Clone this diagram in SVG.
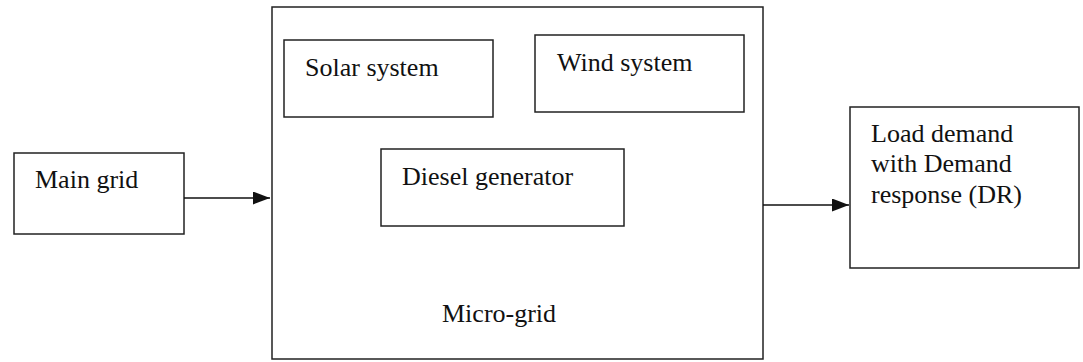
<svg xmlns="http://www.w3.org/2000/svg" width="1083" height="362" viewBox="0 0 1083 362">
<style>
.box{fill:#fff;stroke:#222;stroke-width:1.5}
.t{font-family:"Liberation Serif","Times New Roman",serif;font-size:26px;fill:#111}
.c{stroke:#111;stroke-width:1.5;fill:none}
</style>
<defs>
<marker id="arr" viewBox="0 0 17 13" markerWidth="17" markerHeight="13" refX="17" refY="6.5" orient="auto" markerUnits="userSpaceOnUse"><path d="M0,0 L17,6.5 L0,13 Z" fill="#111"/></marker>
</defs>
<rect width="1083" height="362" fill="#fff"/>
<g id="microgrid"><rect class="box" x="272" y="7" width="491" height="352"/><text class="t" x="442" y="322">Micro-grid</text></g>
<g id="solar"><rect class="box" x="284" y="40" width="209" height="77"/><text class="t" x="305" y="76">Solar system</text></g>
<g id="wind"><rect class="box" x="535" y="35" width="209" height="77"/><text class="t" x="557" y="71">Wind system</text></g>
<g id="diesel"><rect class="box" x="381" y="149" width="243" height="77"/><text class="t" x="402" y="185">Diesel generator</text></g>
<g id="maingrid"><rect class="box" x="14" y="153" width="170" height="81"/><text class="t" x="35" y="188">Main grid</text></g>
<g id="load"><rect class="box" x="850" y="107" width="229" height="161"/><text class="t" x="871" y="142">Load demand</text><text class="t" x="871" y="172">with Demand</text><text class="t" x="871" y="203">response (DR)</text></g>
<g id="connectors">
<line class="c" x1="184" y1="198" x2="270" y2="198" marker-end="url(#arr)"/>
<line class="c" x1="763" y1="205" x2="849" y2="205" marker-end="url(#arr)"/>
</g>
</svg>
